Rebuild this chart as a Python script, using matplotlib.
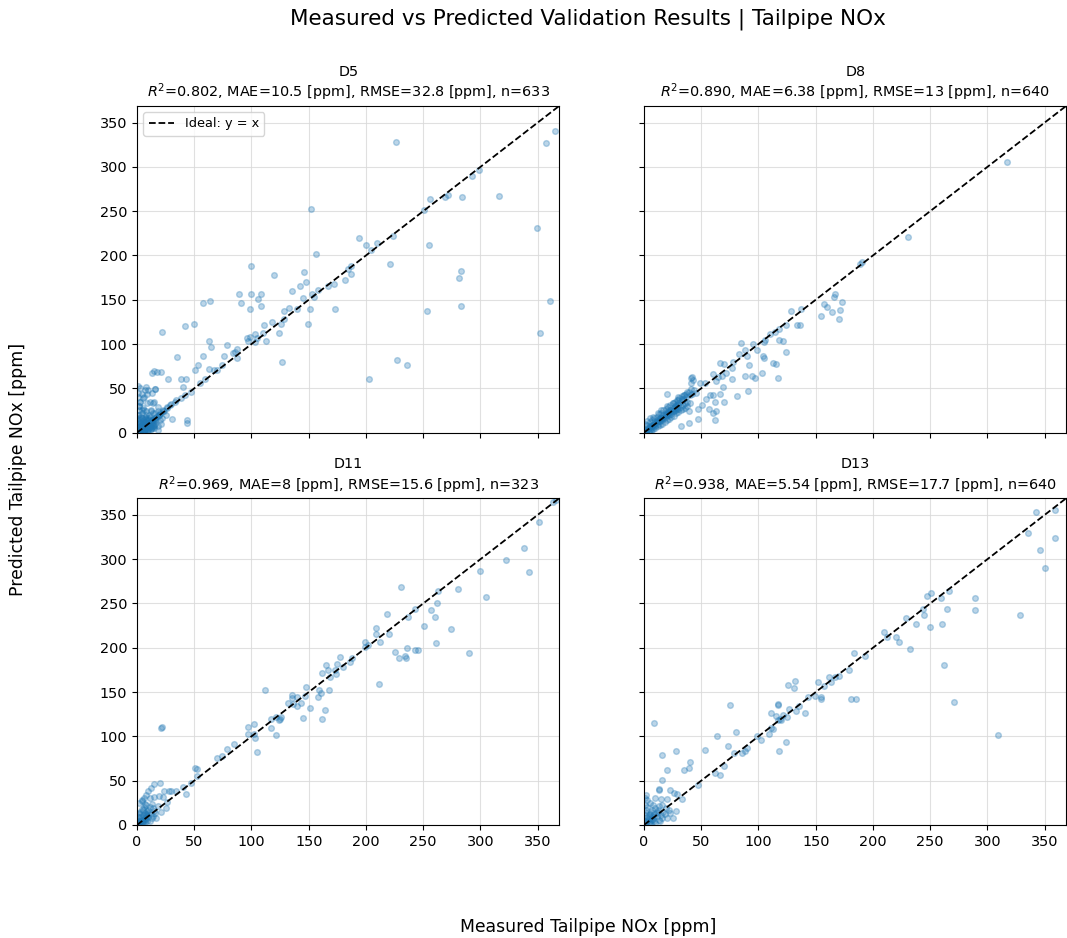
import matplotlib
matplotlib.use("Agg")
import matplotlib.pyplot as plt
import numpy as np

# ---------------- data ----------------
panel_names = ["D5", "D8", "D11", "D13"]
r2_values = ["0.802", "0.890", "0.969", "0.938"]
mae_values = ["10.5", "6.38", "8", "5.54"]
rmse_values = ["32.8", "13", "15.6", "17.7"]
n_values = [633, 640, 323, 640]
tick_values = [0, 50, 100, 150, 200, 250, 300, 350]
axis_limit = 369

d5_points = [
    (226,328),(365,341),(357,327),(299,296),(293,290),(316,267),(256,264),(269,266),(272,268),(284,266),
    (251,251),(152,252),(349,231),(194,220),(200,212),(210,214),(204,206),(224,222),(255,212),(156,202),
    (221,190),(283,183),(281,174),(283,143),(253,137),(361,149),(352,113),(227,82),(236,76),(203,61),
    (100,188),(120,178),(146,181),(148,170),(142,166),(135,160),(153,157),(158,161),(145,152),(155,153),
    (151,139),(167,166),(172,168),(182,172),(184,185),(187,188),(187,179),(173,139),(149,123),(128,137),
    (133,141),(140,139),(126,123),(128,128),(124,113),(118,125),(111,122),(113,104),(127,80),(89,157),
    (100,157),(108,156),(106,151),(91,146),(99,140),(108,143),(58,146),(64,149),(42,120),(50,123),
    (22,114),(63,103),(65,97),(79,99),(96,107),(99,108),(103,111),(105,107),(110,113),(103,102),
    (97,103),(87,94),(86,91),(84,90),(87,84),(76,86),(58,86),(35,85),(53,76),(51,71),
    (63,72),(67,71),(70,71),(74,76),(59,60),(55,56),(38,60),(43,61),(40,52),(27,60),
    (21,68),(15,70),(13,67),(47,46),(31,15),(44,14),(44,11),(16,49),(8,51),(10,48),
    (1,53),(4,44),(5,39),(11,35),(14,33),(2,30),(26,29),(30,32),(34,37),(23,26),(18,24),
    (17.5,68),(2.4,50),(7,48),(9,44),(13,45),(16,49),(6,40),(3,35),(9,33),(15,35),
    (18,29),(4,25),(12,24),(2,20),(7,18),(13,14),(3,11),(9,9),(15,7),(6,5),
    (2,3),(12,4),(18,3),(16,10),(20,14),(25,20),(19,20),(26,28),(29,31),(33,35),
    (38,39),(42,43),(23,24),(20,22),
]
d5_cluster = [
    (1,2),(2,3),(3,4),(4,6),(5,5),(6,7),(7,8),(8,9),(9,10),(10,11),(11,12),(12,13),(13,14),(14,15),
    (15,15),(16,17),(17,18),(18,19),(19,20),(20,21),(2,8),(3,12),(5,14),(6,2),(8,16),(9,4),(11,18),
    (12,6),(14,22),(15,9),(1,20),(2,25),(4,10),(5,28),(7,12),(8,24),(10,3),(12,26),(13,5),(16,22),
    (3,0.5),(4,1),(6,1.5),(7,2),(9,2.5),(10,3),(12,4),(15,5),(18,8),(21,10),(0.5,15),(1.5,30),
    (2.5,35),(3.5,18),(4.5,22),(6.5,26),(8.5,14),(10.5,20),(22,16),(24,24),(1,6),(3,8),(5,10),
    (7,4),(9,6),(11,8),(13,10),(14,12),(17,14),(6,12),(4,16),(8,20),(10,14),(0.5,4),(1.5,10),
    (2,1),(3,2),(4,3),(5,2),(6,4),(7,6),(8,5),(9,7),(10,8),(11,6),(2,6),(3,7),(4,9),(5,8),
    (1,12),(2,16),(3,14),(6,10),(7,15),(8,12),(10,17),(12,10),(14,8),(16,14),(1,40),(0.5,45),
]

d8_points = [
    (317,305),(231,221),(189,190),(190,193),(167,156),(166,153),(157,145),(160,142),(173,147),(171,138),
    (170,128),(164,136),(155,132),(128,137),(137,140),(134,121),(136,121),(124,121),(118,117),(114,114),
    (110,111),(118,105),(121,103),(105,102),(124,91),(106,105),(85,101),(95,100),(99,93),(104,87),
    (105,84),(88,93),(83,89),(90,86),(92,76),(113,79),(115,77),(117,62),(103,67),(97,62),
    (94,64),(88,64),(91,47),(81,41),(66,79),(70,78),(78,80),(77,73),(72,67),(68,64),
    (77,61),(69,51),(63,58),(60,66),(65,63),(42,63),(43,59),(49,56),(53,56),(58,43),
    (60,42),(66,44),(62,35),(70,35),(54,38),(57,27),(63,24),(60,22),(62,14),(47,15),
    (39,11),(32,8),(20,44),(30,40),(33,38),(38,46),(41,49),(45,45),(47,27),(51,31),
    (39,24),(41,62),(41,56),
]
d8_cluster_x = [1,2,3,4,5,6,7,8,9,10,11,12,13,14,15,16,17,18,19,20,21,22,23,24,25,26,27,28,29,30,
                31,32,33,34,35,36,37,38,40,42,
                2,4,6,8,10,12,14,16,18,20,22,24,26,28,30,32,34,36,38,40,
                3,5,7,9,11,13,15,17,19,21,23,25,27,29,31,33,35,37,39,44,
                1,3,5,8,12,15,20,25,30,35,
                2,4,6,8,10,12,14,16,18,20,22,24,26,28,30,
                1,3,5,7,9,11,13,15,17,19,21,23,25,27,29]
d8_cluster_y = [3,1,5,2,8,4,9,6,12,8,14,10,15,13,18,14,20,16,22,19,24,20,26,21,28,24,30,25,32,27,
                34,29,36,31,38,33,40,35,42,44,
                0.5,1,2,4,5,7,9,10,12,14,15,18,19,22,23,25,27,28,30,33,
                9,12,14,17,18,21,22,25,27,29,31,33,35,37,39,41,42,44,46,48,
                10,13,16,18,22,25,30,34,37,42,
                2,5,7,9,11,13,16,17,20,22,23,26,27,30,31,
                1,3,6,8,10,12,13,15,17,20,21,23,24,26,28]

d11_points = [
    (363,365),(366,367),(351,342),(338,313),(322,299),(342,286),(300,287),(305,257),(280,266),(263,264),
    (262,250),(257,243),(260,235),(243,244),(237,235),(231,269),(251,225),(274,221),(261,205),(218,238),
    (209,222),(209,215),(220,216),(212,207),(199,206),(199,201),(202,203),(236,200),(243,197),(245,198),
    (225,195),(229,189),(234,191),(235,189),(290,194),(211,159),(177,190),(175,182),(165,181),(167,175),
    (162,171),(173,175),(180,178),(186,184),(188,188),(169,167),(174,170),(148,156),(159,152),(161,149),
    (158,145),(168,152),(135,147),(135,143),(132,138),(136,137),(140,144),(143,138),(140,134),(147,146),
    (151,132),(145,121),(162,120),(164,130),(112,152),(117,120),(121,122),(125,120),(124,118),(126,122),
    (117,110),(121,102),(97,111),(102,114),(97,103),(102,103),(103,98),(105,82),(85,91),(79,86),
    (74,78),(70,76),(52,63),(51,64),(52,55),(22,111),(21,110),(47,47),(43,35),(40,43),
    (34,38),(30,38),(28,38),(24,38),(20,47),(15,46),(12,42),(10,38),(8,34),(4,27),
    (7,24),(11,30),(15,32),(19,33),(23,32),(26,26),(25,19),(21,15),(18,21),(14,19),
    (10,17),(5,17),(2,13),(8,11),(13,8),(17,8),(5,6),(1,4),(11,4),(15,16),
]
d11_cluster = [
    (1,2),(2,1),(3,4),(4,3),(5,6),(6,5),(7,8),(8,7),(9,10),(10,9),(2,12),(3,15),(4,18),(6,20),(8,22),
    (1,6),(3,9),(5,11),(7,14),(9,16),(12,12),(14,10),(16,13),(2,25),(4,28),(6,30),(0.5,1),(1.5,3),
    (11,20),(13,24),(3,2),(5,3),(6,9),(8,12),(10,14),(2,5),(4,7),(1,9),(7,3),(9,5),
]

d13_points = [
    (359,356),(342,353),(335,330),(359,324),(346,310),(350,290),(266,264),(251,262),(247,258),(259,256),
    (289,256),(289,243),(265,244),(244,244),(245,237),(229,234),(238,227),(250,223),(260,227),(328,237),
    (210,218),(212,212),(220,212),(223,207),(232,199),(262,180),(271,139),(309,102),(183,194),(193,191),
    (179,175),(170,168),(167,167),(162,167),(163,161),(152,161),(157,157),(155,145),(155,142),(149,146),
    (143,144),(181,142),(185,142),(126,158),(132,162),(131,155),(117,136),(117,135),(127,131),(135,134),
    (133,129),(141,126),(111,126),(115,123),(119,120),(121,124),(125,122),(120,118),(117,119),(111,110),
    (113,108),(109,103),(124,94),(118,84),(75,135),(80,105),(64,100),(99,100),(102,96),(73,89),
    (53,85),(79,81),(86,81),(88,84),(90,87),(70,67),(66,56),(62,59),(40,71),(39,64),
    (35,62),(9,115),(28,83),(16,79),(20,62),(16,51),(47,45),(13,41),(23,40),(29,35),
    (33,29),(2,34),(3,28),(10,30),(15,29),(20,29),(23,14),(28,16),(25,8),(26,36),(13,40),
]
d13_cluster = [
    (7,17),(13,21),(16,23),(12,13),(4,11),(2,6),(7,6),(15,11),(17,15),(6,15),(0.5,23),(2,17),(10,19),
    (19,19),(22,17),(0.5,11),(9,9),(13,6),(4,2),(1,1),(2,3),(3,5),(5,4),(6,8),(8,7),(9,12),(11,10),
    (3,20),(1,30),(5,25),(8,22),(12,17),(14,4),(16,8),(18,12),(20,8),(10,2),(6,1),(1,4),(3,9),
    (5,12),(7,10),(2,14),(4,7),(9,5),(11,15),
]

# assemble per panel
def split(pairs):
    return [p[0] for p in pairs], [p[1] for p in pairs]

d5_x, d5_y = split(d5_points + d5_cluster)
d8_x, d8_y = split(d8_points)
d8_x = d8_x + d8_cluster_x
d8_y = d8_y + d8_cluster_y
d11_x, d11_y = split(d11_points + d11_cluster)
d13_x, d13_y = split(d13_points + d13_cluster)

measured = [d5_x, d8_x, d11_x, d13_x]
predicted = [d5_y, d8_y, d11_y, d13_y]

# ---------------- figure ----------------
fig, axes = plt.subplots(2, 2, figsize=(10.67, 9.38), dpi=100, sharex=True, sharey=True)
fig.subplots_adjust(left=0.1284, right=0.9995, top=0.8873, bottom=0.1205, wspace=0.2, hspace=0.2)

for i, ax in enumerate(axes.flat):
    ax.scatter(measured[i], predicted[i], s=17, alpha=0.3, color="#1f77b4", zorder=2)
    ax.plot([0, axis_limit], [0, axis_limit], "k--", lw=1.3, label="Ideal: y = x", zorder=3)
    ax.set_xlim(0, axis_limit)
    ax.set_ylim(0, axis_limit)
    ax.set_xticks(tick_values)
    ax.set_yticks(tick_values)
    ax.grid(True, color="#d9d9d9", lw=0.8, alpha=0.8, zorder=0)
    ax.set_axisbelow(True)
    ax.tick_params(labelsize=10.4)
    ax.set_title(
        f"{panel_names[i]}\n$R^2$={r2_values[i]}, MAE={mae_values[i]} [ppm], "
        f"RMSE={rmse_values[i]} [ppm], n={n_values[i]}",
        fontsize=10.4,
    )
    if i == 0:
        ax.legend(loc="upper left", fontsize=9.3)

fig.suptitle("Measured vs Predicted Validation Results | Tailpipe NOx", fontsize=15.5,
             x=0.551, y=0.98, va="center")
fig.supxlabel("Measured Tailpipe NOx [ppm]", fontsize=12.4, x=0.551, y=0.012, va="center")
fig.supylabel("Predicted Tailpipe NOx [ppm]", fontsize=12.4, x=0.017, y=0.50, ha="center")

fig.savefig("out.png", dpi=100)
